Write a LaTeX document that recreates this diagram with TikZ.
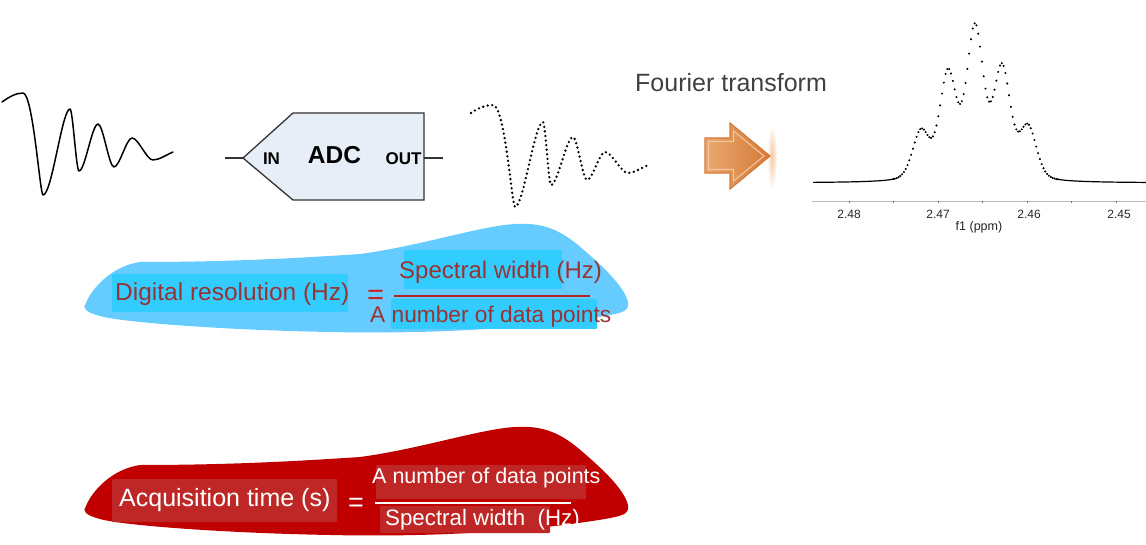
\documentclass[tikz,border=0pt]{standalone}
\usepackage{fontspec}
\setmainfont{Liberation Sans}
\definecolor{blobA}{HTML}{66CCFF}
\definecolor{hlA}{HTML}{33CCFF}
\definecolor{txtA}{HTML}{993333}
\definecolor{eqA}{HTML}{CC2222}
\definecolor{lineA}{HTML}{B02525}
\definecolor{blobB}{HTML}{C00000}
\definecolor{hlB}{HTML}{BF2727}
\definecolor{adcfill}{HTML}{E8EEF8}
\definecolor{adcline}{HTML}{333333}
\definecolor{ftgray}{HTML}{404040}
\definecolor{axgray}{HTML}{BBBBBB}
\definecolor{arrowL}{HTML}{EBA96F}
\definecolor{arrowR}{HTML}{D47A38}
\definecolor{arrowE}{HTML}{D57A36}
\definecolor{arrowI}{HTML}{F3C9A3}
\definecolor{glow}{HTML}{F2C9A6}
\newcommand{\fsz}[1]{\fontsize{#1}{#1}\selectfont}
\newcommand{\blobpath}{(86,303) .. controls (92,288) and (112,266) .. (140,262)
  .. controls (230,262) and (300,258) .. (360,254)
  .. controls (420,246) and (480,226) .. (515,224)
  .. controls (545,222) and (562,232) .. (578,245)
  .. controls (598,262) and (624,285) .. (628,302)
  .. controls (630,312) and (620,313) .. (605,316)
  .. controls (520,330) and (420,334) .. (330,332)
  .. controls (220,330) and (120,322) .. (100,316)
  .. controls (85,312) and (82,308) .. (86,303) -- cycle}
\begin{document}
\begin{tikzpicture}[x=1pt,y=-1pt,
  declare function={lg(\u,\c,\h)=\h*(0.7*exp(-min(((\u-\c)^2)/1.445,9))+0.3/((\u-\c)^2+1));
    spec(\x)=lg(\x/10,92.1,48)+lg(\x/10,94.8,105)+lg(\x/10,97.5,150)+lg(\x/10,100.2,110)+lg(\x/10,102.8,52);},
  lbl/.style={inner sep=0pt, anchor=base west},
  eqsign/.style={inner sep=0pt, anchor=base, text height=14pt, text depth=0pt},
  hlbox/.style={rounded corners=1pt},
  wave/.style={line width=1.5pt, line join=round, line cap=round},
  dotwave/.style={line width=2.6pt, dash pattern=on 0pt off 4.6pt, line cap=round},
  adcbox/.style={fill=adcfill, draw=adcline, line width=1.3pt, line join=miter},
  adctxt/.style={inner sep=0pt, font=\bfseries\fsz{17}},
  axlbl/.style={inner sep=0pt, font=\fsz{12}, text=black!85}]
\useasboundingbox (0,0) rectangle (1146,545);

% ---------- analog FID ----------
\draw[wave] (2,102) .. controls (9,97) and (16,93) .. (23,93)
  .. controls (33,93) and (40,195) .. (43,195)
  .. controls (52,195) and (62,109) .. (70,109)
  .. controls (72.8,109) and (76.2,171) .. (79,171)
  .. controls (85,171) and (92,124) .. (98,124)
  .. controls (103,124) and (109,167) .. (114,167)
  .. controls (119.5,167) and (126.5,138) .. (132,138)
  .. controls (138.5,138) and (146.5,160) .. (153,160)
  .. controls (159,160) and (166,155) .. (173,152);

% ---------- ADC ----------
\coordinate (inEnd) at (225,158);
\coordinate (adcIn) at (243,158);
\coordinate (adcOut) at (424,158);
\coordinate (outEnd) at (443,158);
\draw[adcbox] (adcIn) -- (293,113) -- (424,113) -- (424,200) -- (293,200) -- cycle;
\draw[adcline, line width=1.3pt] (inEnd) -- (adcIn);
\draw[adcline, line width=1.3pt] (adcOut) -- (outEnd);
\node[adctxt] (inlbl) at (271.5,158.5) {IN};
\node[inner sep=0pt, font=\bfseries\fsz{24.5}] (adclbl) at (334.5,155) {ADC};
\node[adctxt] (outlbl) at (403.5,158.5) {OUT};

% ---------- sampled FID ----------
\draw[dotwave] (471,113) .. controls (478,108) and (486,105) .. (493,105)
  .. controls (505,105) and (512,207) .. (515,207)
  .. controls (523.4,207) and (534.6,122) .. (543,122)
  .. controls (545.4,122) and (548.6,185) .. (551,185)
  .. controls (557.6,185) and (566.4,137) .. (573,137)
  .. controls (577.2,137) and (582.8,180) .. (587,180)
  .. controls (592.4,180) and (599.6,152) .. (605,152)
  .. controls (611.9,152) and (621.1,173) .. (628,173)
  .. controls (635,173) and (642,167) .. (649,165);

% ---------- Fourier transform arrow ----------
\node[lbl, font=\fsz{25}, text=ftgray] (ftlbl) at (635,92) {Fourier transform};
\shade[inner color=glow, outer color=white] (772,157) ellipse (5 and 33);
\draw[left color=arrowL, right color=arrowR, draw=arrowE, line width=1.2pt, line join=miter]
  (705,138) -- (730,138) -- (730,123) -- (770,156) -- (730,189) -- (730,173) -- (705,173) -- cycle;
\draw[arrowI, line width=1pt, line join=miter]
  (708.5,141.5) -- (733.5,141.5) -- (733.5,131) -- (764,156) -- (733.5,181) -- (733.5,169.5) -- (708.5,169.5) -- cycle;

% ---------- spectrum ----------
\draw[axgray, line width=0.9pt] (812,201) -- (1146,201);
\foreach \t in {849,893.5,938,982.5,1027,1071.5,1116}
  \draw[black!55, line width=0.6pt] (\t,201) -- (\t,203);
\draw[line width=1.2pt] plot[domain=813:895, samples=50] (\x,{183-spec(\x)});
\draw[line width=1.2pt] plot[domain=1056:1146, samples=50] (\x,{183-spec(\x)});
\fill plot[only marks, mark=*, mark size=0.8pt, mark options={draw=none, fill=black}, domain=893:1058, samples=92] (\x,{183-spec(\x)});
\node[axlbl] (t248) at (849,214) {2.48};
\node[axlbl] (t247) at (938,214) {2.47};
\node[axlbl] (t246) at (1029,214) {2.46};
\node[axlbl] (t245) at (1119,214) {2.45};
\node[axlbl, font=\fsz{12.5}] (f1lbl) at (979,227) {f1 (ppm)};

% ---------- digital resolution (blue) ----------
\fill[blobA] \blobpath;
\fill[hlA, hlbox] (112,274) rectangle (348,312);
\fill[hlA, hlbox] (404,250) rectangle (562,289);
\fill[hlA, hlbox] (391,299) rectangle (597,329);
\node[lbl, font=\fsz{24.5}, text=txtA] (drlbl) at (115,301) {Digital resolution (Hz)};
\node[eqsign, font=\fsz{29}, text=eqA] (eqA) at (375.5,305) {=};
\coordinate (fracAl) at (394,296);
\coordinate (fracAr) at (590,296);
\draw[lineA, line width=2pt] (fracAl) -- (fracAr);
\node[lbl, font=\fsz{24}, text=txtA] (swA) at (399,279) {Spectral width (Hz)};
\node[lbl, font=\fsz{22.7}, text=txtA] (npA) at (370,323) {A number of data points};

% ---------- acquisition time (red) ----------
\fill[blobB, shift={(0,203)}] \blobpath;
\fill[hlB, hlbox] (112,479) rectangle (337,522);
\fill[hlB, hlbox] (376,465) rectangle (586,499);
\fill[hlB, hlbox] (380,506) rectangle (550,533);
\node[lbl, font=\fsz{25}, text=white] (atlbl) at (119,506) {Acquisition time (s)};
\node[eqsign, font=\fsz{27}, text=white] (eqB) at (356,511.5) {=};
\coordinate (fracBl) at (375,503);
\coordinate (fracBr) at (571,503);
\draw[white, line width=1.6pt] (fracBl) -- (fracBr);
\node[lbl, font=\fsz{21.5}, text=white] (npB) at (372,483) {A number of data points};
\node[lbl, font=\fsz{22.3}, text=white] (swB) at (385,525) {Spectral width\ \ (Hz)};
\end{tikzpicture}
\end{document}
